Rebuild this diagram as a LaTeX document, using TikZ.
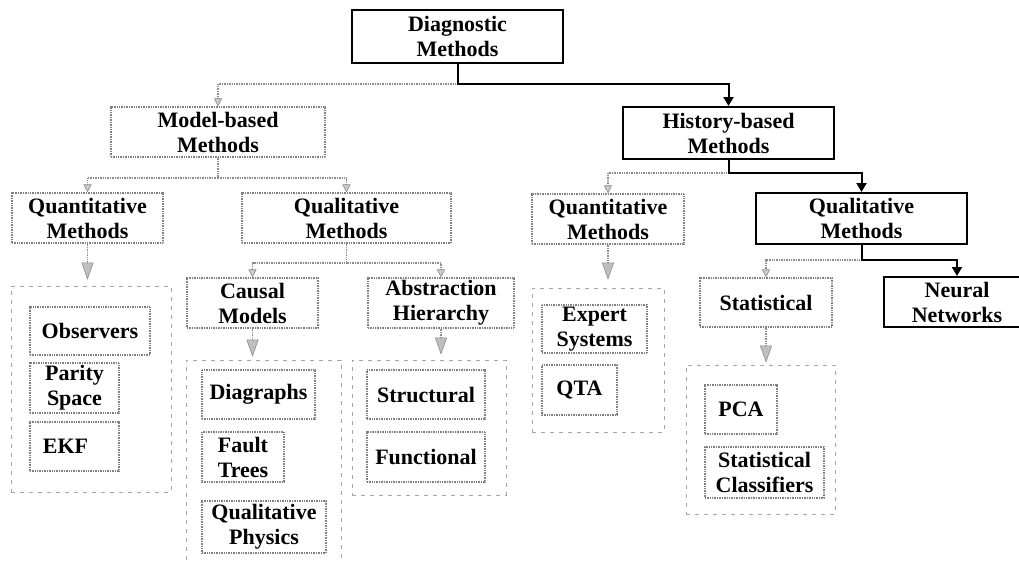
\documentclass[tikz,border=0pt]{standalone}
\usepackage{fontspec}
\setmainfont{Liberation Serif}
\usetikzlibrary{arrows.meta}
\begin{document}
\begin{tikzpicture}[x=1pt,y=-1pt,
  base/.style={font=\bfseries\fontsize{22}{25}\selectfont, align=center, inner sep=0pt},
  sz/.style 2 args={minimum width=#1pt, minimum height=#2pt},
  hard/.style={base, draw=black, line width=2pt},
  soft/.style={base, draw=black!50, line width=1.1pt, dash pattern=on 1pt off 0.7pt},
  group/.style={draw=black!35, line width=0.8pt, dash pattern=on 4pt off 5pt, inner sep=0pt},
  hardlink/.style={line width=2pt, -{Triangle[width=10pt,length=9pt]}},
  softlink/.style={draw=black!45, line width=1.1pt, dash pattern=on 1pt off 0.7pt,
                   -{Triangle[width=8pt,length=8pt,fill=black!20,line width=0.6pt]}},
  longlink/.style={draw=black!45, line width=1.1pt, dash pattern=on 1pt off 0.7pt,
                   -{Triangle[width=12pt,length=17pt,fill=black!25,line width=0.6pt]}}
]
\useasboundingbox (0,0) rectangle (1019,560);
\clip (0,0) rectangle (1019,560);

% root
\node[hard, sz={211}{53}] (diag) at (457.5,36.5) {Diagnostic\\Methods};

% second level
\node[soft, sz={214}{50}] (model) at (218,132) {Model-based\\Methods};
\node[hard, sz={211}{52}] (hist) at (728.5,133) {History-based\\Methods};

% third level
\node[soft, sz={151}{50}] (quanL) at (87.5,218) {Quantitative\\Methods};
\node[soft, sz={209}{50}] (qualM) at (346.5,218) {Qualitative\\Methods};
\node[soft, sz={152}{50}] (quanR) at (608,219) {Quantitative\\Methods};
\node[hard, sz={211}{51}] (qualR) at (861.5,218.5) {Qualitative\\Methods};

% fourth level
\node[soft, sz={131}{50}] (causal) at (252.5,303) {Causal\\Models};
\node[soft, sz={146}{50}] (abstr) at (441,303) {Abstraction\\Hierarchy};
\node[soft, sz={132}{49}] (stat) at (766,302.5) {Statistical};
\node[hard, sz={146}{50}] (neural) at (957,302) {Neural\\Networks};

% grouping frames
\node[group, sz={160}{206}] (gL) at (91,389) {};
\node[group, sz={155}{205}] (gC) at (263.5,462.5) {};
\node[group, sz={154}{135}] (gA) at (429,427.5) {};
\node[group, sz={132}{144}] (gQ) at (598,360) {};
\node[group, sz={149}{149}] (gS) at (760.5,439.5) {};

% leaves
\node[soft, sz={120}{48}] (obs) at (90,331) {Observers};
\node[soft, sz={89}{50}] (parity) at (74.5,388) {Parity\\Space};
\node[soft, sz={89}{49}] (ekf) at (74.5,446.5) {EKF\hspace*{18pt}};

\node[soft, sz={113}{49}] (digr) at (258.5,394.5) {Diagraphs};
\node[soft, sz={82}{50}] (fault) at (243,457) {Fault\\Trees};
\node[soft, sz={124}{52}] (qphys) at (264,527) {Qualitative\\Physics};

\node[soft, sz={118}{49}] (struct) at (426,394.5) {Structural};
\node[soft, sz={118}{50}] (func) at (426,457) {Functional};

\node[soft, sz={105}{48}] (expert) at (594.5,329) {Expert\\Systems};
\node[soft, sz={75}{50}] (qta) at (579.5,390) {QTA};

\node[soft, sz={72}{49}] (pca) at (741,409.5) {PCA};
\node[soft, sz={119}{51}] (statcl) at (764.5,472.5) {Statistical\\Classifiers};

% junction points of the branching connectors
\coordinate (j1) at (457.5,84);
\coordinate (j2) at (218,178);
\coordinate (j3) at (728.5,173);
\coordinate (j4) at (861.5,260);
\coordinate (j5) at (346.5,263);

% connectors
\draw[softlink] (j1) -| (model.north);
\draw[hardlink] (diag.south) -- (j1) -| (hist.north);

\draw[draw=black!45, line width=1.1pt, dash pattern=on 1pt off 0.7pt] (model.south) -- (j2);
\draw[softlink] (j2) -| (quanL.north);
\draw[softlink] (j2) -| (qualM.north);

\draw[softlink] (j3) -| (quanR.north);
\draw[hardlink] (hist.south) -- (j3) -| (qualR.north);

\draw[softlink] (j4) -| (stat.north);
\draw[hardlink] (qualR.south) -- (j4) -| (neural.north);

\draw[draw=black!45, line width=1.1pt, dash pattern=on 1pt off 0.7pt] (qualM.south) -- (j5);
\draw[softlink] (j5) -| (causal.north);
\draw[softlink] (j5) -| (abstr.north);

\draw[longlink, shorten >=6pt] (quanL.south) -- (quanL.south |- gL.north);
\draw[longlink, shorten >=3pt] (causal.south) -- (causal.south |- gC.north);
\draw[longlink, shorten >=5pt] (abstr.south) -- (abstr.south |- gA.north);
\draw[longlink, shorten >=8pt] (quanR.south) -- (quanR.south |- gQ.north);
\draw[longlink, shorten >=2pt] (stat.south) -- (stat.south |- gS.north);
\end{tikzpicture}
\end{document}
